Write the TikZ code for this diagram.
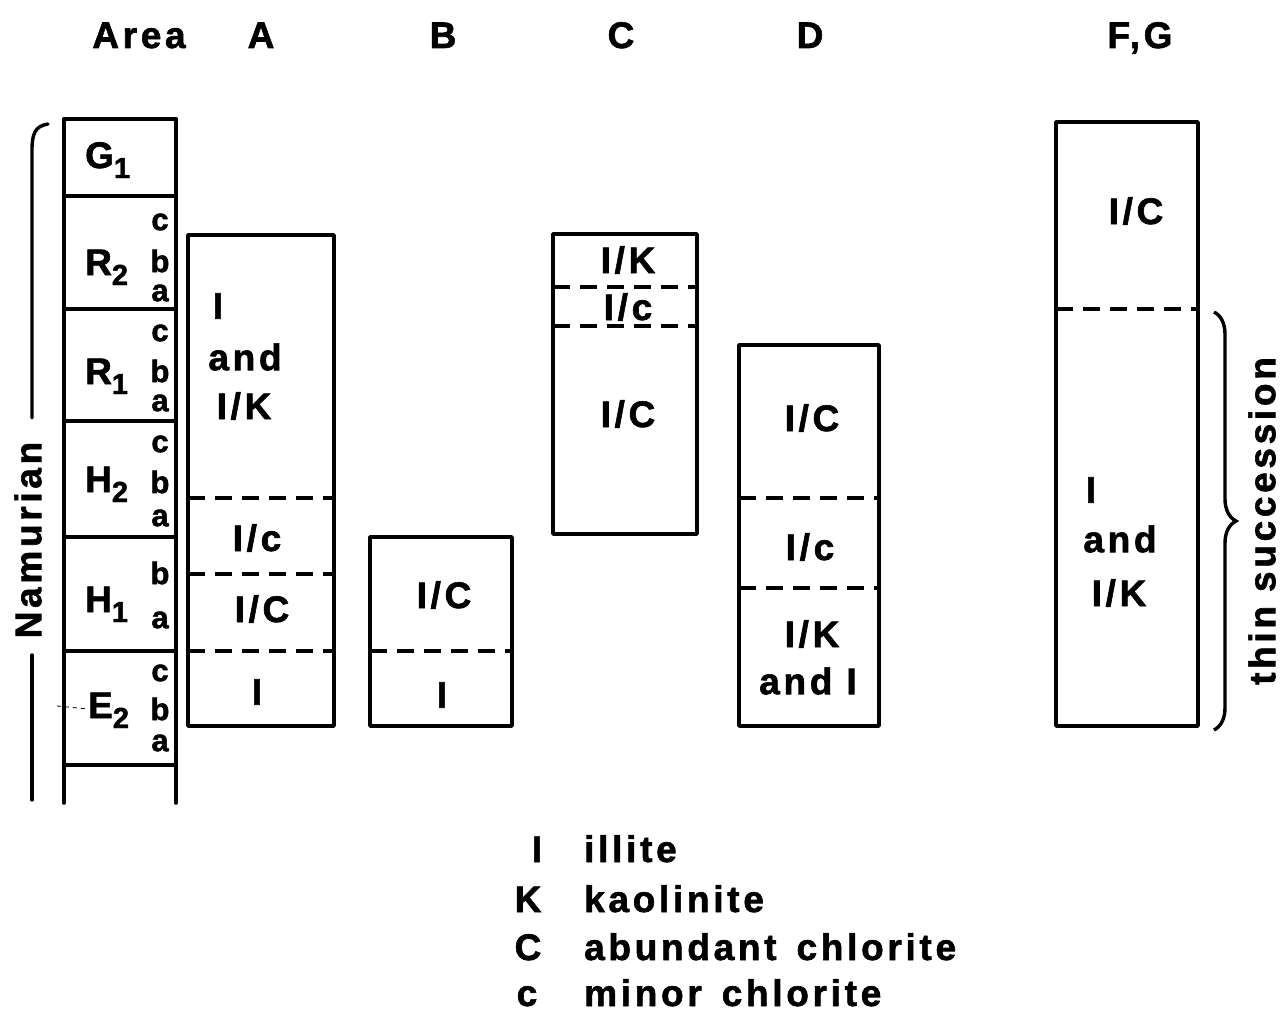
\documentclass[tikz,border=0pt]{standalone}
\usepackage{fontspec}
\setmainfont{Liberation Sans}[LetterSpace=10, BoldFeatures={FakeBold=1.6}]
\usetikzlibrary{decorations.pathreplacing}
\newcommand\lsub[1]{\raisebox{-10pt}{\fontsize{29}{30}\selectfont #1}}
\begin{document}
\begin{tikzpicture}[x=1pt,y=-1pt,
  lbl/.style={font=\fontsize{37}{40}\selectfont\bfseries, inner sep=0pt},
  sml/.style={font=\fontsize{31}{32}\selectfont\bfseries, inner sep=0pt},
  hdr/.style={lbl, anchor=base},
  zone/.style={lbl, anchor=base west},
  key/.style={lbl, anchor=base},
  keytext/.style={lbl, anchor=base west},
  boxline/.style={line width=3.6pt, line cap=round, line join=round},
  dsh/.style={line width=3.6pt, dash pattern=on 17pt off 10pt}]
\useasboundingbox (0,0) rectangle (1286,1014);

% headers
\node[hdr] (hArea) at (139,48) {Area};
\node[hdr] (hA) at (261,48) {A};
\node[hdr] (hB) at (443,48) {B};
\node[hdr] (hC) at (621,48) {C};
\node[hdr] (hD) at (810,48) {D};
\node[hdr] (hFG) at (1140,48) {F,G};

% stratigraphic column
\draw[boxline] (64,119) -- (64,803);
\draw[boxline] (176,119) -- (176,803);
\foreach \yy in {119,196,309,421,537,651,765}
  \draw[boxline] (64,\yy) -- (176,\yy);

\node[zone] (G1) at (85,168) {G\lsub{1}};
\node[zone] (R2) at (85,275) {R\lsub{2}};
\node[zone] (R1) at (85,384) {R\lsub{1}};
\node[zone] (H2) at (85,492) {H\lsub{2}};
\node[zone] (H1) at (85,612) {H\lsub{1}};
\node[zone] (E2) at (88,718) {E\lsub{2}};

\node[sml] (r2c) at (160,222) {c};
\node[sml] (r2b) at (160,261) {b};
\node[sml] (r2a) at (160,293) {a};
\node[sml] (r1c) at (160,333) {c};
\node[sml] (r1b) at (160,371) {b};
\node[sml] (r1a) at (160,403) {a};
\node[sml] (h2c) at (160,444) {c};
\node[sml] (h2b) at (160,482) {b};
\node[sml] (h2a) at (160,518) {a};
\node[sml] (h1b) at (160,573) {b};
\node[sml] (h1a) at (160,620) {a};
\node[sml] (e2c) at (160,673) {c};
\node[sml] (e2b) at (160,709) {b};
\node[sml] (e2a) at (160,743) {a};

\draw[line width=0.8pt, dash pattern=on 4pt off 4pt] (57,706) -- (88,709);

% Namurian bracket
\draw[line width=3.4pt, line cap=round] (48,124) .. controls (35,126) and (32,134) .. (32,150) -- (32,418);
\draw[line width=3.4pt, line cap=round] (32,655) -- (32,800);
\node[lbl, rotate=90] (nam) at (28,540) {Namurian};

% Area A
\draw[boxline] (188,235) rectangle (334,726);
\draw[dsh] (188,498) -- (334,498);
\draw[dsh] (188,574) -- (334,574);
\draw[dsh] (188,651) -- (334,651);
\node[lbl] (a1) at (218,306) {I};
\node[lbl] (a2) at (245,357) {and};
\node[lbl] (a3) at (244,406) {I/K};
\node[lbl] (a4) at (257,538) {I/c};
\node[lbl] (a5) at (262,609) {I/C};
\node[lbl] (a6) at (257,692) {I};

% Area B
\draw[boxline] (370,537) rectangle (512,726);
\draw[dsh] (370,651) -- (512,651);
\node[lbl] (b1) at (444,595) {I/C};
\node[lbl] (b2) at (442,695) {I};

% Area C
\draw[boxline] (553,234) rectangle (697,534);
\draw[dsh] (553,287) -- (697,287);
\draw[dsh] (553,326) -- (697,326);
\node[lbl] (c1) at (628,260) {I/K};
\node[lbl] (c2) at (628,307) {I/c};
\node[lbl] (c3) at (628,414) {I/C};

% Area D
\draw[boxline] (739,345) rectangle (879,726);
\draw[dsh] (739,498) -- (879,498);
\draw[dsh] (739,588) -- (879,588);
\node[lbl] (d1) at (812,418) {I/C};
\node[lbl] (d2) at (810,547) {I/c};
\node[lbl] (d3) at (812,634) {I/K};
\node[lbl] (d4) at (808,681) {and I};

% Area F,G
\draw[boxline] (1056,122) rectangle (1198,726);
\draw[dsh] (1056,309) -- (1198,309);
\node[lbl] (f1) at (1136,211) {I/C};
\node[lbl] (f2) at (1091,490) {I};
\node[lbl] (f3) at (1120,539) {and};
\node[lbl] (f4) at (1119,593) {I/K};

% thin succession brace
\draw[line width=3.4pt, decorate, decoration={brace, amplitude=22pt}] (1214,312) -- (1214,730);
\node[lbl, rotate=90] (thin) at (1262,521) {thin succession};

% legend
\node[key] (kI) at (537,862) {I};
\node[key] (kK) at (528,912) {K};
\node[key] (kC) at (528,960) {C};
\node[key] (kc) at (527,1006) {c};
\node[keytext] (lI) at (584,862) {illite};
\node[keytext] (lK) at (584,912) {kaolinite};
\node[keytext] (lC) at (584,960) {abundant\hspace{6pt} chlorite};
\node[keytext] (lc) at (584,1006) {minor\hspace{6pt} chlorite};
\end{tikzpicture}
\end{document}
